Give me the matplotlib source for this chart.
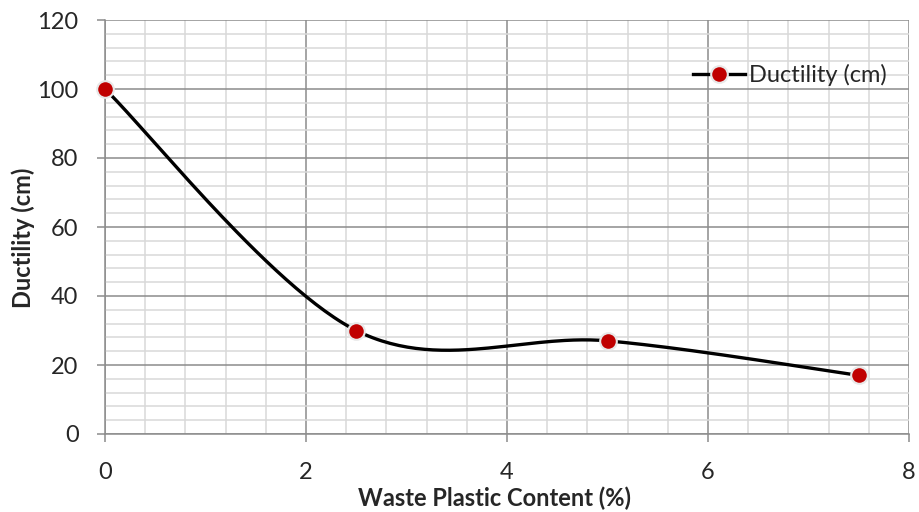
import numpy as np
import matplotlib
matplotlib.use('Agg')
import matplotlib.pyplot as plt
from matplotlib.ticker import MultipleLocator

# data
plastic = [0, 2.5, 5, 7.5]          # waste plastic content (%)
ductility = [100, 30, 27, 17]       # ductility (cm)
x_ticks = [0, 2, 4, 6, 8]
y_ticks = [0, 20, 40, 60, 80, 100, 120]

plt.rcParams['font.family'] = ['Lato', 'DejaVu Sans']


def excel_smooth(xs, ys, n=60):
    """Excel-like smoothed line: cubic Bezier with Catmull-Rom control points."""
    p = np.column_stack([xs, ys]).astype(float)
    p = np.vstack([p[0], p, p[-1]])
    out = []
    t = np.linspace(0, 1, n)[:, None]
    for i in range(1, len(p) - 2):
        p0, p1, p2, p3 = p[i - 1], p[i], p[i + 1], p[i + 2]
        c1 = p1 + (p2 - p0) / 6.0
        c2 = p2 - (p3 - p1) / 6.0
        seg = ((1 - t) ** 3) * p1 + 3 * ((1 - t) ** 2) * t * c1 \
            + 3 * (1 - t) * t ** 2 * c2 + t ** 3 * p2
        out.append(seg if i == 1 else seg[1:])
    seg = np.vstack(out)
    return seg[:, 0], seg[:, 1]


fig = plt.figure(figsize=(9.19, 5.12), dpi=100)
ax = fig.add_axes([105 / 919, 1 - 434 / 512, 804 / 919, 414 / 512])

sx, sy = excel_smooth(plastic, ductility)
ax.plot(sx, sy, color='black', lw=2.4, zorder=3, solid_capstyle='round')
ax.plot(plastic, ductility, ls='none', marker='o', ms=12,
        mfc='#c00000', mec='#e8e8e8', mew=1.5, zorder=4, clip_on=False)

# legend proxy (line + marker)
ax.plot([], [], color='black', lw=2.4, marker='o', ms=12,
        mfc='#c00000', mec='#e8e8e8', mew=1.5, label='Ductility (cm)')

ax.set_xlim(0, 8)
ax.set_ylim(0, 120)
ax.set_xticks(x_ticks)
ax.set_yticks(y_ticks)
ax.xaxis.set_minor_locator(MultipleLocator(0.4))
ax.yaxis.set_minor_locator(MultipleLocator(4))

ax.grid(which='major', color='#8c8c8c', lw=1.1, zorder=1)
ax.grid(which='minor', color='#d9d9d9', lw=1.1, zorder=0)
ax.set_axisbelow(True)

for s in ['top', 'right']:
    ax.spines[s].set_visible(False)
for s in ['left', 'bottom']:
    ax.spines[s].set_color('#8c8c8c')
    ax.spines[s].set_linewidth(1.1)

ax.tick_params(which='major', direction='out', length=6, width=1.1,
               color='#8c8c8c', labelsize=17, labelcolor='#262626')
ax.tick_params(axis='x', pad=14)
ax.tick_params(axis='y', pad=13)
ax.tick_params(which='minor', length=0)

ax.set_xlabel('Waste Plastic Content (%)', fontsize=17, fontweight='bold',
              color='#262626')
ax.set_ylabel('Ductility (cm)', fontsize=17, fontweight='bold',
              color='#262626')
ax.xaxis.set_label_coords(0.484, -0.128)
ax.yaxis.set_label_coords(-0.087, 0.473)

leg = ax.legend(loc='center right', bbox_to_anchor=(0.972, 0.867), frameon=False,
                fontsize=17, handlelength=2.2, handletextpad=0.15,
                labelcolor='#262626', borderaxespad=0, borderpad=0)

fig.savefig('out.png', dpi=100)
